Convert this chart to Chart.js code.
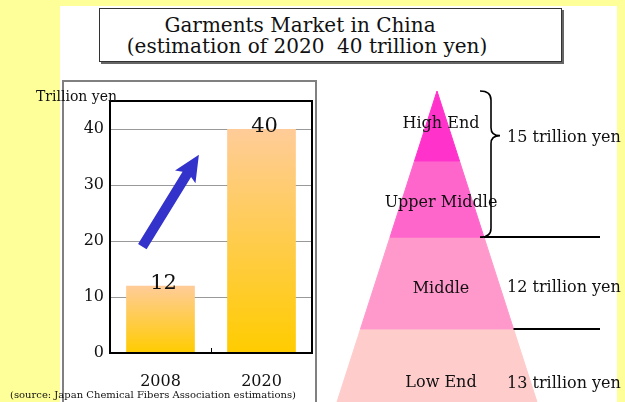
<!DOCTYPE html>
<html lang="en">
<head>
<meta charset="UTF-8">
<title>Garments Market in China</title>
<script src="https://cdn.jsdelivr.net/npm/chart.js@4.4.0/dist/chart.umd.min.js"></script>
<style>
	body { margin: 0; }
	#page { position: relative; width: 625px; height: 402px; background: #ffff99; overflow: hidden; font-family: "DejaVu Serif", serif; color: #111; }
	#slide { position: absolute; left: 60px; top: 6px; width: 557px; height: 400px; background: #fff; }
	#titleBox { position: absolute; left: 99px; top: 8px; width: 461px; height: 52px; border: 1px solid #333; box-shadow: 2px 2px 0 #666; background: #fff; }
	.title { position: absolute; left: 99px; font-size: 20px; line-height: 21px; text-align: center; white-space: nowrap; }
	#panel { position: absolute; left: 62px; top: 80px; width: 251px; height: 340px; border: 2px solid #808080; }
	#unit { position: absolute; left: 36px; top: 89px; font-size: 14px; line-height: 14px; white-space: nowrap; }
	#barBox { position: absolute; left: 20px; top: 85px; }
	#pyrBox { position: absolute; left: 320px; top: 80px; }
	#source { position: absolute; left: 10px; top: 390px; font-size: 10px; line-height: 10px; white-space: nowrap; }
</style>
</head>
<body>
<div id="page">
	<div id="slide"></div>
	<div id="titleBox"></div>
	<div class="title" style="top:15px; width:402px;">Garments Market in China</div>
	<div class="title" style="top:36px; width:416px;">(estimation of 2020&nbsp;&nbsp;40 trillion yen)</div>

	<div id="panel"></div>
	<div id="barBox"><canvas id="barChart" width="296" height="305"></canvas></div>
	<div id="unit">Trillion yen</div>
	<div id="source">(source: Japan Chemical Fibers Association estimations)</div>

	<div id="pyrBox"><canvas id="pyramid" width="305" height="322"></canvas></div>
</div>

<script>
	// market size, trillion yen
	const years = ['2008', '2020']
	const marketSize = [12, 40]
	const yTicks = [0, 10, 20, 30, 40]

	// pyramid tiers, top to bottom
	const tiers = ['High End', 'Upper Middle', 'Middle', 'Low End']
	const tierDepth = [0, 0.225, 0.47, 0.765, 1]
	const segmentValues = [15, 12, 13]
	const segmentTiers = [[0, 1], [2], [3]]

	// look
	const serif = '"DejaVu Serif", serif'
	const tierColors = ['#ff33cc', '#ff66cc', '#ff99cc', '#ffcccc']
	const tierLabelDepth = [0.105, 0.36, 0.635, 0.94]
	const valueLabelDepth = [0.15, 0.633, 0.942]

	function barFill(context) {
		const chart = context.chart
		if (!chart.chartArea) return '#ffcc66'
		const y = chart.scales.y
		const g = chart.ctx.createLinearGradient(0, y.getPixelForValue(context.raw), 0, y.getPixelForValue(0))
		g.addColorStop(0, '#ffcc99')
		g.addColorStop(1, '#ffcc00')
		return g
	}

	const plotFrame = {
		id: 'plotFrame',
		afterDatasetsDraw(chart) {
			const { ctx, chartArea: a, scales } = chart
			ctx.save()
			ctx.strokeStyle = '#000'
			ctx.lineWidth = 2
			ctx.strokeRect(a.left, a.top, a.right - a.left, a.bottom - a.top)
			// tick between the two years
			const mid = Math.round(scales.x.getPixelForValue(0.5)) + 0.5
			ctx.lineWidth = 1
			ctx.beginPath()
			ctx.moveTo(mid, a.bottom)
			ctx.lineTo(mid, a.bottom - 5)
			ctx.stroke()
			ctx.restore()
		}
	}

	const barValues = {
		id: 'barValues',
		afterDatasetsDraw(chart) {
			const ctx = chart.ctx
			ctx.save()
			ctx.font = '21px ' + serif
			ctx.fillStyle = '#111'
			ctx.textAlign = 'center'
			ctx.textBaseline = 'alphabetic'
			chart.getDatasetMeta(0).data.forEach((bar, i) => {
				ctx.fillText(marketSize[i], bar.x + 3, bar.y + 3)
			})
			ctx.restore()
		}
	}

	// growth arrow, placed in axis units
	const trendArrow = {
		id: 'trendArrow',
		afterDatasetsDraw(chart) {
			const { ctx, scales: { x, y } } = chart
			const x0 = x.getPixelForValue(-0.18), y0 = y.getPixelForValue(19)
			const x1 = x.getPixelForValue(0.38), y1 = y.getPixelForValue(35.4)
			const len = Math.hypot(x1 - x0, y1 - y0)
			const shaft = 5, head = 26, wing = 12
			ctx.save()
			ctx.translate(x0, y0)
			ctx.rotate(Math.atan2(y1 - y0, x1 - x0))
			ctx.beginPath()
			ctx.moveTo(0, -shaft)
			ctx.lineTo(len - head + 3, -shaft)
			ctx.lineTo(len - head, -wing)
			ctx.lineTo(len, 0)
			ctx.lineTo(len - head, wing)
			ctx.lineTo(len - head + 3, shaft)
			ctx.lineTo(0, shaft)
			ctx.closePath()
			ctx.fillStyle = '#3333cc'
			ctx.fill()
			ctx.restore()
		}
	}

	new Chart(document.getElementById('barChart'), {
		type: 'bar',
		data: {
			labels: years,
			datasets: [{
				data: marketSize,
				backgroundColor: barFill,
				borderWidth: 0,
				categoryPercentage: 1,
				barPercentage: 0.68
			}]
		},
		options: {
			responsive: false,
			animation: false,
			layout: { padding: { top: 16, right: 4, left: 0, bottom: 0 } },
			scales: {
				x: {
					grid: { display: false },
					border: { display: false },
					ticks: { color: '#111', font: { family: serif, size: 16 }, padding: 11 },
					afterFit(scale) { scale.height = 37 }
				},
				y: {
					min: 0,
					max: 45,
					grid: { color: '#999', lineWidth: 1, drawTicks: false },
					border: { display: false },
					ticks: { color: '#111', font: { family: serif, size: 16 }, padding: 6 },
					afterBuildTicks(scale) { scale.ticks = yTicks.map(v => ({ value: v })) },
					afterFit(scale) { scale.width = 90 }
				}
			},
			plugins: {
				legend: { display: false },
				tooltip: { enabled: false }
			}
		},
		plugins: [plotFrame, barValues, trendArrow]
	})

	const pyramidLabels = {
		id: 'pyramidLabels',
		afterDatasetsDraw(chart) {
			const { ctx, scales: { x, y } } = chart
			ctx.save()
			ctx.font = '16px ' + serif
			ctx.fillStyle = '#111'
			ctx.textBaseline = 'middle'

			ctx.textAlign = 'center'
			tiers.forEach((name, i) => {
				ctx.fillText(name, x.getPixelForValue(0.04), y.getPixelForValue(tierLabelDepth[i]))
			})

			ctx.textAlign = 'left'
			segmentValues.forEach((v, i) => {
				ctx.fillText(v + ' trillion yen', x.getPixelForValue(0.7), y.getPixelForValue(valueLabelDepth[i]))
			})

			// separators between the segments
			ctx.strokeStyle = '#000'
			ctx.lineWidth = 2
			segmentTiers.slice(1).forEach(group => {
				const d = tierDepth[group[0]]
				const py = Math.round(y.getPixelForValue(d))
				ctx.beginPath()
				ctx.moveTo(x.getPixelForValue(d), py)
				ctx.lineTo(x.getPixelForValue(1.63), py)
				ctx.stroke()
			})

			// brace over the first segment
			const first = segmentTiers[0]
			const top = y.getPixelForValue(tierDepth[first[0]])
			const bot = y.getPixelForValue(tierDepth[first[first.length - 1] + 1])
			const tip = y.getPixelForValue(valueLabelDepth[0]) - 2
			const xa = x.getPixelForValue(0.43), xb = x.getPixelForValue(0.54), xc = x.getPixelForValue(0.63)
			ctx.lineWidth = 1.6
			ctx.beginPath()
			ctx.moveTo(xa, top)
			ctx.quadraticCurveTo(xb, top, xb, top + 9)
			ctx.lineTo(xb, tip - 8)
			ctx.quadraticCurveTo(xb, tip, xc, tip)
			ctx.quadraticCurveTo(xb, tip, xb, tip + 8)
			ctx.lineTo(xb, bot - 9)
			ctx.quadraticCurveTo(xb, bot, xa, bot)
			ctx.stroke()
			ctx.restore()
		}
	}

	new Chart(document.getElementById('pyramid'), {
		type: 'scatter',
		data: {
			datasets: tiers.map((name, i) => {
				const d0 = tierDepth[i], d1 = tierDepth[i + 1]
				return {
					label: name,
					data: [{ x: -d0, y: d0 }, { x: d0, y: d0 }, { x: d1, y: d1 }, { x: -d1, y: d1 }, { x: -d0, y: d0 }],
					showLine: true,
					fill: 'shape',
					tension: 0,
					backgroundColor: tierColors[i],
					borderColor: tierColors[i],
					borderWidth: 1,
					pointRadius: 0
				}
			})
		},
		options: {
			responsive: false,
			animation: false,
			layout: { padding: 0 },
			scales: {
				x: { display: false, min: -1.17, max: 1.88 },
				y: { display: false, min: -0.0354, max: 1, reverse: true }
			},
			plugins: {
				legend: { display: false },
				tooltip: { enabled: false }
			}
		},
		plugins: [pyramidLabels]
	})
</script>
</body>
</html>
